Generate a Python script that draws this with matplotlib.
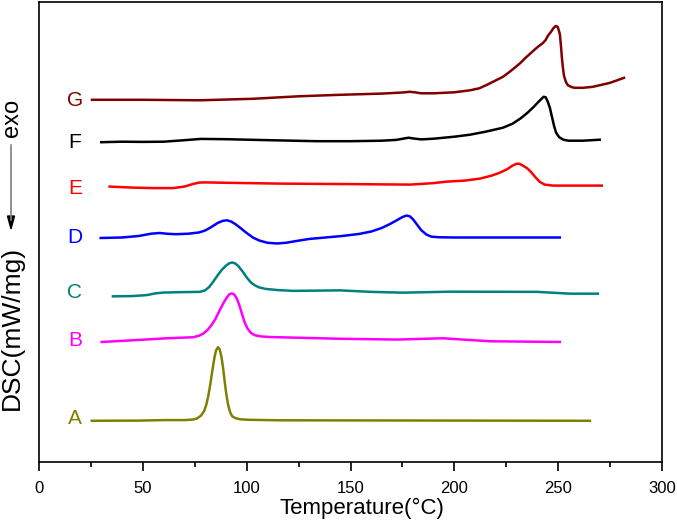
import matplotlib
matplotlib.use('Agg')
import matplotlib.pyplot as plt
from matplotlib.lines import Line2D

plt.rcParams['font.family'] = ['Liberation Sans', 'DejaVu Sans']

# 各試料の DSC 曲線 (温度 °C, 信号: 任意単位)
temp_a = [25.4, 48.6, 60, 70, 74, 76, 78, 79.5, 80.5, 81.5, 82.5, 83.5, 84.5,
          85.3, 86.2, 87, 87.8, 88.6, 89.4, 90.2, 91, 92, 93, 94.5, 97, 101,
          116, 265.3]
dsc_a = [41.3, 41.5, 42, 42, 42.5, 43.5, 46.5, 51, 57, 66, 78, 92, 105,
         112, 115, 113, 106, 95, 81, 68, 58, 50, 46, 44, 42.8, 42.3,
         41.8, 41.3]

temp_b = [30.2, 45.3, 61.6, 74.1, 77, 79, 81, 83, 85, 87, 89, 90.5, 91.7, 93,
          94.2, 95.3, 96.5, 97.8, 99, 100.5, 102, 104, 107, 112, 145, 172.4,
          194.5, 204, 217.1, 250.8]
dsc_b = [120.3, 122, 124, 125, 126.5, 128.5, 132, 137, 143.5, 152, 160, 165,
         168.3, 169, 167.5, 163.5, 157, 148, 140, 133.5, 129.5, 127, 125.8,
         125.2, 123.5, 122.7, 124, 122.7, 121, 120.3]

temp_c = [35.6, 45, 52, 56, 60, 68, 77.5, 80, 82, 84, 86, 88, 90, 91.5, 93,
          94.5, 96, 98, 100, 102, 104, 106, 109, 115, 122.3, 145, 160, 175.3,
          197.9, 239.8, 255.7, 269.1]
dsc_c = [166, 166.3, 167.3, 169, 169.8, 170.2, 170.5, 172, 175.5, 181, 187,
         192.5, 196.7, 199, 200, 199, 196.3, 191, 185, 180, 177, 175, 173.5,
         172.3, 171.5, 172, 170.5, 169.7, 170.7, 170.5, 168.7, 168.7]

temp_d = [29.7, 40, 48, 54, 58, 62, 66, 72, 77, 80, 83, 86, 88.5, 90.5, 92.5,
          94.5, 97, 100, 103, 106, 110, 114.6, 119, 124, 130, 138, 146, 154,
          160, 165, 169, 172.5, 175, 177, 178.5, 180, 182, 184, 186.5, 189,
          193, 200, 250.8]
dsc_d = [224.5, 225, 226.5, 228.8, 229.5, 228.7, 228.3, 228.8, 230, 232,
         235.5, 239.5, 241.7, 242.2, 241, 238.5, 234.5, 229.5, 225, 222,
         219.7, 219, 219.7, 221.5, 223.5, 225, 226.5, 228.5, 231, 234.5,
         238.5, 242.5, 245.5, 247, 246.3, 243.5, 238, 232.5, 228, 225.8,
         225.2, 225, 225]

temp_e = [34, 45, 55, 64.5, 70, 74, 77, 80, 100, 116, 150, 178.6, 185, 190,
          193, 196.4, 205, 212.3, 218, 222, 225.5, 228, 230.1, 231.5, 233, 235,
          237, 239, 241, 243.5, 247.5, 271]
dsc_e = [276, 275, 274.5, 274.5, 276, 278.5, 280, 280.2, 279.5, 279, 278.5,
         278, 278.8, 279.5, 280.2, 281, 282, 284, 287, 290, 293.5, 297,
         299, 298.8, 297, 294.5, 290.5, 285.5, 281, 278, 277, 277]

temp_f = [30, 40, 50, 60, 70, 78, 90, 111, 134, 150, 165, 172, 176, 178, 180,
          184, 190, 200, 207.5, 215, 223.4, 228, 232, 235.5, 238.5, 241, 243,
          244, 245, 246, 247, 248, 249, 250.5, 252.5, 255, 262, 270]
dsc_f = [320.5, 321, 320.8, 321, 322.5, 323.8, 323.5, 322.5, 321.5, 321.5,
         322, 322.8, 324.3, 325, 324.3, 323.3, 324, 326, 328, 331, 335, 339,
         344.5, 350.5, 356.5, 362, 366, 365.5, 361, 355, 346, 337, 330,
         325.5, 323, 322, 322, 323]

temp_g = [25.5, 50, 77.5, 103, 125, 145, 165, 175, 178.6, 181, 184, 190, 200,
          207.5, 212, 215.7, 220, 223.4, 226, 229, 231.6, 234, 236.4, 238.5,
          240.5, 242.7, 244, 245, 246.5, 247.8, 248.9, 249.8, 250.8, 251.3,
          251.8, 252.3, 252.8, 253.7, 254.7, 256.5, 258, 262, 266.7, 275, 281.7]
dsc_g = [363, 363, 362.5, 364, 366.5, 368, 369.2, 370.3, 371, 370.5, 369.5,
         369.5, 370.5, 372.5, 374.5, 378, 382.5, 386, 390, 395, 399.5, 404.5,
         409, 413, 416.5, 420, 423, 427, 431, 435, 437, 436, 429, 418, 405,
         395, 387, 381, 377.5, 375.7, 375, 375, 376, 380, 385]

names = ['A', 'B', 'C', 'D', 'E', 'F', 'G']
colors = ['#808000', '#ff00ff', '#008080', '#0000ff', '#ff0000', '#000000', '#800000']
label_levels = [44, 122, 170, 225, 274, 320, 362]

curves = [(temp_a, dsc_a), (temp_b, dsc_b), (temp_c, dsc_c), (temp_d, dsc_d),
          (temp_e, dsc_e), (temp_f, dsc_f), (temp_g, dsc_g)]

fig = plt.figure(figsize=(6.77, 5.25), dpi=100)
ax = fig.add_axes([39 / 677, 1 - 462 / 525, 623 / 677, 460 / 525])

for (t, d), name, c, lv in zip(curves, names, colors, label_levels):
    ax.plot(t, d, color=c, linewidth=1.8, solid_joinstyle='round')
    ax.text(17.3, lv, name, color=c, fontsize=15, ha='center', va='center')

ax.set_xlim(0, 300)
ax.set_ylim(0, 461)
ax.set_xticks(range(0, 301, 50))
ax.set_xticks(range(25, 300, 50), minor=True)
ax.set_yticks([])
ax.tick_params(axis='x', which='major', direction='out', length=6.5, width=1.2,
               labelsize=12, pad=7)
ax.tick_params(axis='x', which='minor', direction='out', length=3.5, width=1.2)
for s in ax.spines.values():
    s.set_linewidth(1.2)

ax.set_xlabel('Temperature(°C)', fontsize=16)
ax.xaxis.set_label_coords(0.518, -0.078)

# 縦軸ラベルと発熱方向の矢印
fig.text(12 / 677, 1 - 328 / 525, 'DSC(mW/mg)', rotation=90, fontsize=19,
         ha='center', va='center')
fig.text(12 / 677, 1 - 118 / 525, 'exo', rotation=90, fontsize=17,
         ha='center', va='center')
fig.add_artist(Line2D([11 / 677, 11 / 677], [1 - 145 / 525, 1 - 220 / 525],
                      color='#808080', linewidth=1.2))
fig.add_artist(plt.Polygon([[7.5 / 677, 1 - 216 / 525], [14.5 / 677, 1 - 216 / 525],
                            [11 / 677, 1 - 229 / 525]], closed=True,
                           color='black', transform=fig.transFigure))

plt.savefig('out.png', dpi=100)
